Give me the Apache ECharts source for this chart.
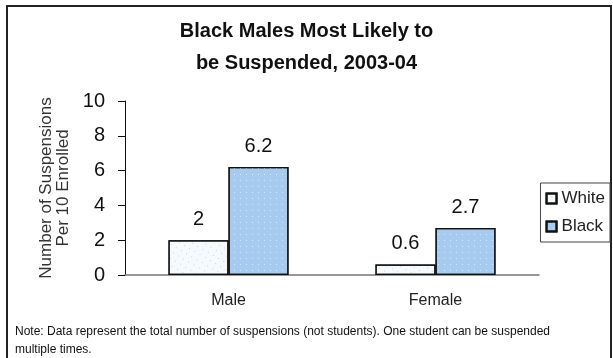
<!DOCTYPE html>
<html>
<head>
<meta charset="utf-8">
<script src="https://cdn.jsdelivr.net/npm/echarts@6/dist/echarts.min.js"></script>
<style>
  html, body { margin: 0; padding: 0; background: #fff; }
  #chart { width: 613px; height: 358px; }
</style>
</head>
<body>
<div id="chart"></div>
<script>
// categories and values
var categories = ['Male', 'Female'];
var whiteValues = [2, 0.6];
var blackValues = [6.2, 2.7];
var yTicks = [0, 2, 4, 6, 8, 10];

var myChart = echarts.init(document.getElementById('chart'));

var option = {
    backgroundColor: '#fff',
    animation: false,
    aria: { enabled: true, decal: { show: true } },
    title: [{
        text: 'Black Males Most Likely to\nbe Suspended, 2003-04',
        left: 'center',
        top: 10,
        textStyle: { fontFamily: 'Liberation Sans', fontSize: 20, fontWeight: 'bold', color: '#111', lineHeight: 32 }
    }, {
        text: 'Note: Data represent the total number of suspensions (not students). One student can be suspended\nmultiple times.',
        left: 10,
        top: 318,
        textStyle: { fontFamily: 'Liberation Sans', fontSize: 12, fontWeight: 'normal', color: '#111', lineHeight: 18 }
    }],
    graphic: [{
        type: 'rect',
        shape: { x: 7, y: 6, width: 604, height: 360 },
        style: { fill: null, stroke: '#222', lineWidth: 2 },
        silent: true
    }],
    legend: {
        orient: 'vertical',
        right: 3,
        top: 183,
        itemWidth: 10,
        itemHeight: 10,
        itemGap: 11,
        padding: [7, 5, 7, 5],
        borderColor: '#444',
        borderWidth: 1,
        icon: 'rect',
        textStyle: { fontFamily: 'Liberation Sans', fontSize: 17, color: '#222' },
        data: ['White', 'Black']
    },
    grid: { left: 125, right: 74, top: 101, bottom: 83 },
    xAxis: {
        type: 'category',
        data: categories,
        axisLine: { lineStyle: { color: '#777', width: 1.5 } },
        axisTick: { show: false },
        axisLabel: { margin: 18, fontFamily: 'Liberation Sans', fontSize: 16, color: '#222' }
    },
    yAxis: {
        type: 'value',
        min: 0,
        max: 10,
        interval: 2,
        name: 'Number of Suspensions\nPer 10 Enrolled',
        nameLocation: 'middle',
        nameRotate: 90,
        nameGap: 53,
        nameTextStyle: { fontFamily: 'Liberation Sans', fontSize: 17, color: '#333', lineHeight: 17 },
        splitLine: { show: false },
        axisLine: { show: true, lineStyle: { color: '#111', width: 1 } },
        axisTick: { show: true, length: 7, lineStyle: { color: '#111' } },
        axisLabel: {
            margin: 20,
            fontFamily: 'Liberation Sans',
            fontSize: 20,
            color: '#111',
            formatter: function (v) { return yTicks.indexOf(v) >= 0 ? String(v) : ''; }
        }
    },
    series: [{
        name: 'White',
        type: 'bar',
        data: whiteValues,
        barCategoryGap: '42%',
        barGap: '0%',
        itemStyle: {
            color: '#f7fafd',
            borderColor: '#111',
            borderWidth: 1.2,
            decal: { symbol: 'rect', symbolSize: 1, dashArrayX: [1, 5], dashArrayY: [1, 5], color: 'rgba(160,195,230,0.7)' }
        },
        label: { show: true, position: 'top', distance: 11, fontFamily: 'Liberation Sans', fontSize: 20, color: '#111' }
    }, {
        name: 'Black',
        type: 'bar',
        data: blackValues,
        itemStyle: {
            color: '#a6cbee',
            borderColor: '#111',
            borderWidth: 1.2,
            decal: { symbol: 'rect', symbolSize: 1, dashArrayX: [1, 5], dashArrayY: [1, 5], color: 'rgba(225,238,250,0.8)' }
        },
        label: { show: true, position: 'top', distance: 11, fontFamily: 'Liberation Sans', fontSize: 20, color: '#111' }
    }]
};

myChart.setOption(option);
</script>
</body>
</html>
